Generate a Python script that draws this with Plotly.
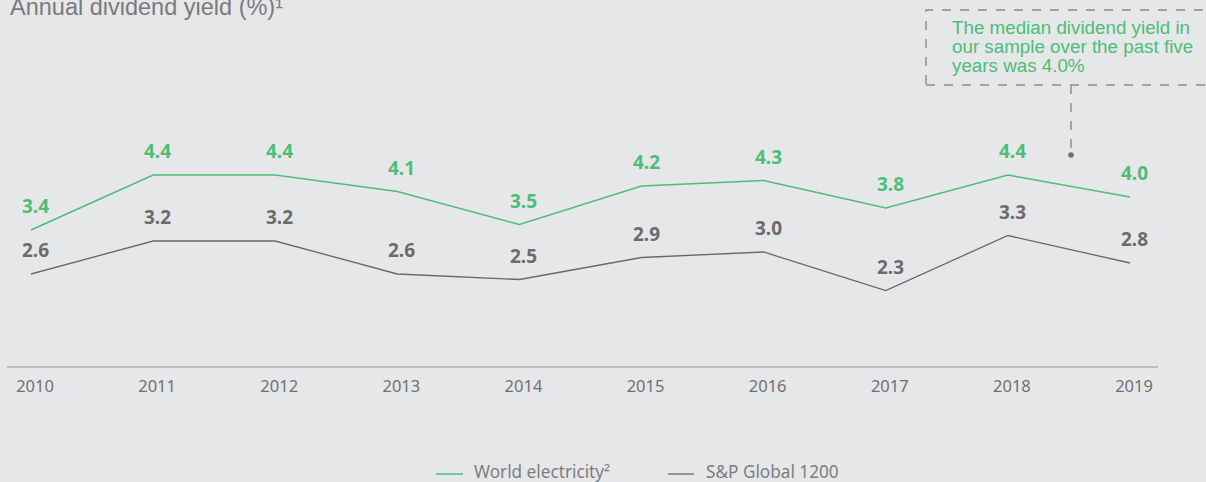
import plotly.graph_objects as go

years = [2010, 2011, 2012, 2013, 2014, 2015, 2016, 2017, 2018, 2019]
world_electricity = [3.4, 4.4, 4.4, 4.1, 3.5, 4.2, 4.3, 3.8, 4.4, 4.0]
sp_global_1200 = [2.6, 3.2, 3.2, 2.6, 2.5, 2.9, 3.0, 2.3, 3.3, 2.8]
tick_labels = [str(y) for y in years]
series_names = ["World electricity²", "S&P Global 1200"]
title_text = "Annual dividend yield (%)¹"
note_lines = ["The median dividend yield in", "our sample over the past five", "years was 4.0%"]

GREEN = "#4dbd77"
GRAY_LINE = "#67686a"
GRAY_LABEL = "#6b6b6d"
BG = "#e6e7e9"
FONT = "Noto Sans"

W, H = 1206, 482
ML, MR, MT, MB = 7, 48, 40, 116
PW = W - ML - MR
PH = H - MT - MB


def px_x(px):
    return (px - ML) / PW


def px_y(py):
    return (H - MB - py) / PH


fig = go.Figure()
fig.add_trace(go.Scatter(x=years, y=world_electricity, mode="lines", name=series_names[0],
                         line=dict(color=GREEN, width=1.5), hoverinfo="skip", showlegend=False))
fig.add_trace(go.Scatter(x=years, y=sp_global_1200, mode="lines", name=series_names[1],
                         line=dict(color=GRAY_LINE, width=1.3), hoverinfo="skip", showlegend=False))

annotations = []
for vals, col in [(world_electricity, GREEN), (sp_global_1200, GRAY_LABEL)]:
    for x, v in zip(years, vals):
        annotations.append(dict(x=x, y=v, xref="x", yref="y", text=f"{v:.1f}", showarrow=False,
                                xanchor="center", yanchor="middle", xshift=4.5, yshift=24,
                                font=dict(family=FONT, size=19, color=col, weight="bold")))

annotations.append(dict(x=px_x(8), y=px_y(7), xref="paper", yref="paper", text=title_text,
                        showarrow=False, xanchor="left", yanchor="middle",
                        font=dict(family="Liberation Sans", size=23.5, color="#7a7a7c")))

for i, line in enumerate(note_lines):
    annotations.append(dict(x=px_x(950), y=px_y(28 + 18.7 * i), xref="paper", yref="paper", text=line,
                            showarrow=False, xanchor="left", yanchor="middle",
                            font=dict(family="Liberation Sans", size=18.8, color=GREEN)))

shapes = [
    dict(type="rect", xref="paper", yref="paper", x0=px_x(926), x1=px_x(1216), y0=px_y(85), y1=px_y(10),
         line=dict(color="#8a8a8c", width=1.4, dash="dash"), fillcolor="rgba(0,0,0,0)", layer="above"),
    dict(type="line", xref="paper", yref="paper", x0=px_x(1071), x1=px_x(1071), y0=px_y(85), y1=px_y(154),
         line=dict(color="#8a8a8c", width=1.4, dash="dash")),
    dict(type="circle", xref="paper", yref="paper", x0=px_x(1068.2), x1=px_x(1073.8), y0=px_y(152.2), y1=px_y(157.8),
         line=dict(color="#6d6e70", width=0), fillcolor="#6d6e70"),
]

# manual legend (line sample + label) below the axis
legend_items = [(series_names[0], GREEN, 1.5, 436, 463, 472), (series_names[1], GRAY_LINE, 1.3, 668, 694, 704)]
for name, col, lw, lx0, lx1, tx in legend_items:
    shapes.append(dict(type="line", xref="paper", yref="paper", x0=px_x(lx0), x1=px_x(lx1),
                       y0=px_y(474), y1=px_y(474), line=dict(color=col, width=lw)))
    annotations.append(dict(x=px_x(tx), y=px_y(472), xref="paper", yref="paper", text=name,
                            showarrow=False, xanchor="left", yanchor="middle",
                            font=dict(family=FONT, size=17.2, color="#7d7d7f")))

fig.update_layout(
    width=W, height=H,
    margin=dict(l=ML, r=MR, t=MT, b=MB, pad=0),
    paper_bgcolor=BG, plot_bgcolor=BG,
    showlegend=False,
    annotations=annotations,
    shapes=shapes,
    xaxis=dict(range=[2010 - 24 / 122.1, 2019 + 28 / 122.1], tickvals=years, ticktext=tick_labels,
               showgrid=False, zeroline=False, showline=True, linecolor="#bcbdbf", linewidth=1.5,
               ticks="", ticklabelshift=4, ticklabelstandoff=4,
               tickfont=dict(family=FONT, size=16.5, color="#707072"), fixedrange=True),
    yaxis=dict(range=[4.4 - (366 - 175) / 55, 4.4 + (175 - 40) / 55], visible=False, showgrid=False,
               zeroline=False, fixedrange=True),
)

fig.write_html("out.html", config={"displayModeBar": False},
               post_script="document.body.style.margin='0';document.body.style.background='" + BG + "';")
